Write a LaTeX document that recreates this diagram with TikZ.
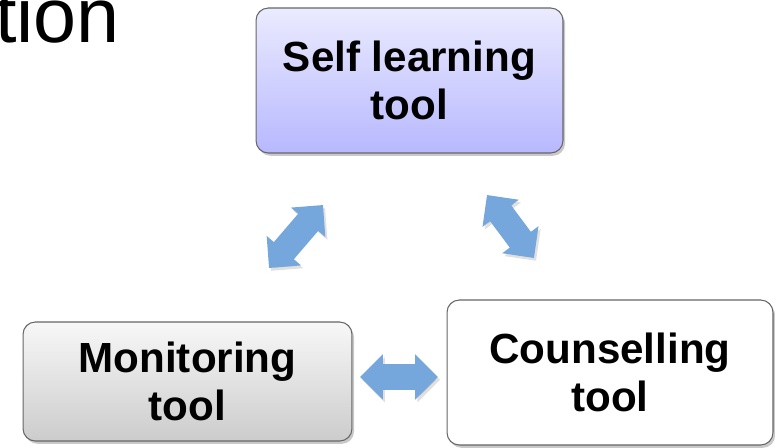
\documentclass[tikz,border=0pt]{standalone}
\usepackage{fontspec}
\setmainfont{Liberation Sans}
\usepackage{tikz}
\usetikzlibrary{%
  positioning
 ,arrows.meta
 ,shadows
}
\definecolor{arrblue}{HTML}{76A7DC}
\tikzstyle{tbox}=[draw=black!60,line width=0.6pt,rounded corners=7pt,align=center,
  font=\bfseries\fontsize{24}{27}\selectfont,
  drop shadow={shadow xshift=1.2pt,shadow yshift=-1.6pt,opacity=0.3,fill=black!70}]
\tikzstyle{dblarr}=[draw=arrblue,line width=15pt,
  {Triangle[length=13pt,width=25pt]}-{Triangle[length=13pt,width=25pt]},
  preaction={draw=black,opacity=0.12,transform canvas={shift={(1.2pt,-1.6pt)}}}]

\begin{document}
\begin{tikzpicture}[x=0.02cm,y=-0.02cm]
  \useasboundingbox (0,0) rectangle (775,447);
  \node[anchor=base east,inner sep=0pt,font=\fontsize{44}{50}\selectfont] (title) at (120,42) {tion};
% 
  \node[tbox,top color=blue!8,bottom color=blue!28!white,minimum width=6.14cm,minimum height=2.9cm]
    (self) at (409.5,80.5) {Self learning\\tool};
  \node[tbox,top color=black!3,bottom color=black!20,minimum width=6.58cm,minimum height=2.38cm]
    (mon) at (187.5,381.5) {Monitoring\\tool};
  \node[tbox,fill=white,minimum width=6.52cm,minimum height=2.9cm]
    (coun) at (610,372.5) {Counselling\\tool};
% 
  \coordinate (ms1) at (269,268);
  \coordinate (ms2) at (323,205);
  \coordinate (sc1) at (487,195);
  \coordinate (sc2) at (534,258);
  \coordinate (mc1) at (360,377);
  \coordinate (mc2) at (438,377);
  \draw[dblarr] (ms1) -- (ms2);
  \draw[dblarr] (sc1) -- (sc2);
  \draw[dblarr] (mc1) -- (mc2);
\end{tikzpicture}
\end{document}
